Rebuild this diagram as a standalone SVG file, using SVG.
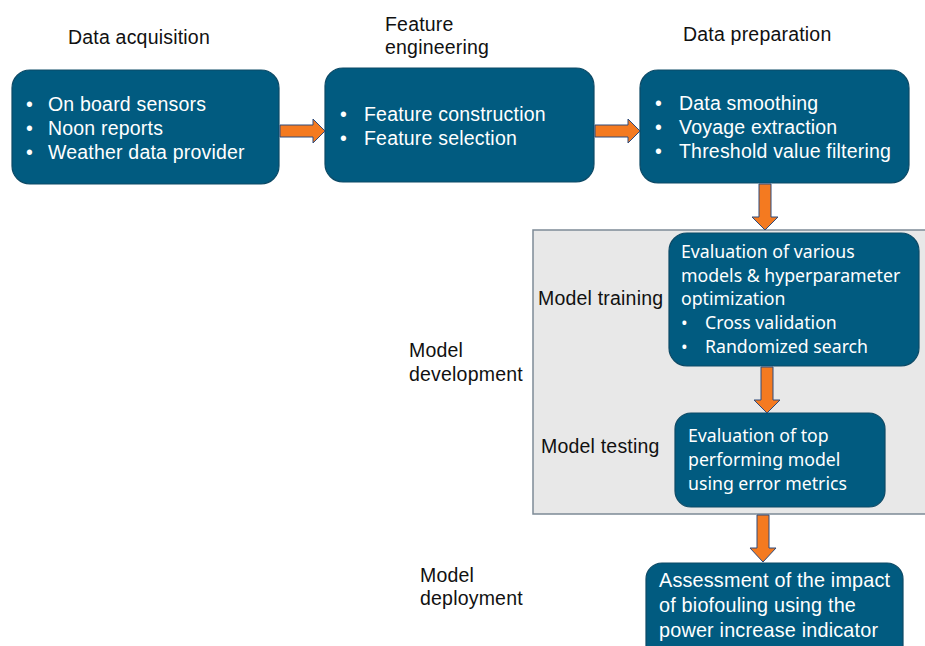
<svg xmlns="http://www.w3.org/2000/svg" width="925" height="646" viewBox="0 0 925 646">
  <style>
    .box { fill: #015b80; stroke: #0d4a66; stroke-width: 1.2; }
    .lbl { font-family: "Liberation Sans", Arial, sans-serif; font-size: 19.5px; letter-spacing: 0.2px; fill: #111; }
    .t { font-family: "Liberation Sans", Arial, sans-serif; font-size: 19.5px; letter-spacing: 0.2px; fill: #fff; }
    .t3 { font-family: "Liberation Sans", Arial, sans-serif; font-size: 19.8px; letter-spacing: 0.2px; fill: #fff; }
    .t2 { font-family: "Noto Sans", "Open Sans", sans-serif; font-size: 17.7px; fill: #fff; }
    .arrow { fill: #f47a20; stroke: #2e4a7a; stroke-width: 1; }
    .panel { fill: #e8e8e8; stroke: #7d8a96; stroke-width: 1.5; }
  </style>

  <rect x="0" y="0" width="925" height="646" fill="#fff"/>

  <!-- stage labels -->
  <text class="lbl" x="68" y="44">Data acquisition</text>
  <text class="lbl" x="385" y="31">Feature</text>
  <text class="lbl" x="385" y="54">engineering</text>
  <text class="lbl" x="683" y="41">Data preparation</text>

  <!-- model development panel -->
  <g id="model-development">
    <rect class="panel" x="533" y="230" width="400" height="284"/>
    <text class="lbl" x="409" y="357">Model</text>
    <text class="lbl" x="409" y="381">development</text>
    <text class="lbl" x="538" y="305">Model training</text>
    <text class="lbl" x="541" y="453">Model testing</text>
  </g>

  <text class="lbl" x="420" y="582">Model</text>
  <text class="lbl" x="420" y="605">deployment</text>

  <g id="data-acquisition">
    <rect class="box" x="12" y="70" width="267" height="114" rx="18"/>
    <text class="t" x="26" y="111">•</text><text class="t" x="48" y="111">On board sensors</text>
    <text class="t" x="26" y="135">•</text><text class="t" x="48" y="135">Noon reports</text>
    <text class="t" x="26" y="159">•</text><text class="t" x="48" y="159">Weather data provider</text>
  </g>

  <g id="feature-engineering">
    <rect class="box" x="325" y="68" width="269" height="114" rx="18"/>
    <text class="t" x="340" y="121">•</text><text class="t" x="364" y="121">Feature construction</text>
    <text class="t" x="340" y="145">•</text><text class="t" x="364" y="145">Feature selection</text>
  </g>

  <g id="data-preparation">
    <rect class="box" x="640" y="70" width="269" height="113" rx="18"/>
    <text class="t" x="655" y="110">•</text><text class="t" x="679" y="110">Data smoothing</text>
    <text class="t" x="655" y="134">•</text><text class="t" x="679" y="134">Voyage extraction</text>
    <text class="t" x="655" y="158">•</text><text class="t" x="679" y="158">Threshold value filtering</text>
  </g>

  <g id="model-training">
    <rect class="box" x="669" y="233" width="250" height="133" rx="18"/>
    <text class="t2" x="681" y="258">Evaluation of various</text>
    <text class="t2" x="681" y="282">models &amp; hyperparameter</text>
    <text class="t2" x="681" y="305">optimization</text>
    <text class="t2" x="681" y="329">•</text><text class="t2" x="705" y="329">Cross validation</text>
    <text class="t2" x="681" y="353">•</text><text class="t2" x="705" y="353">Randomized search</text>
  </g>

  <g id="model-testing">
    <rect class="box" x="675" y="413" width="210" height="94" rx="16"/>
    <text class="t2" x="688" y="442">Evaluation of top</text>
    <text class="t2" x="688" y="466">performing model</text>
    <text class="t2" x="688" y="490">using error metrics</text>
  </g>

  <g id="model-deployment">
    <rect class="box" x="646" y="563" width="257" height="100" rx="16"/>
    <text class="t3" x="659" y="587">Assessment of the impact</text>
    <text class="t3" x="659" y="612">of biofouling using the</text>
    <text class="t3" x="659" y="637">power increase indicator</text>
  </g>

  <!-- connectors: block arrows -->
  <g id="connectors">
    <polygon class="arrow" points="280,125 313,125 313,119 325,131 313,143 313,137 280,137"/>
    <polygon class="arrow" points="595,125 628,125 628,119 640,131 628,143 628,137 595,137"/>
    <polygon class="arrow" points="759,184 771,184 771,217 778,217 765,230 752,217 759,217"/>
    <polygon class="arrow" points="761,367 773,367 773,400 780,400 767,413 754,400 761,400"/>
    <polygon class="arrow" points="757,515 769,515 769,548 776,548 763,562 750,548 757,548"/>
  </g>
</svg>
